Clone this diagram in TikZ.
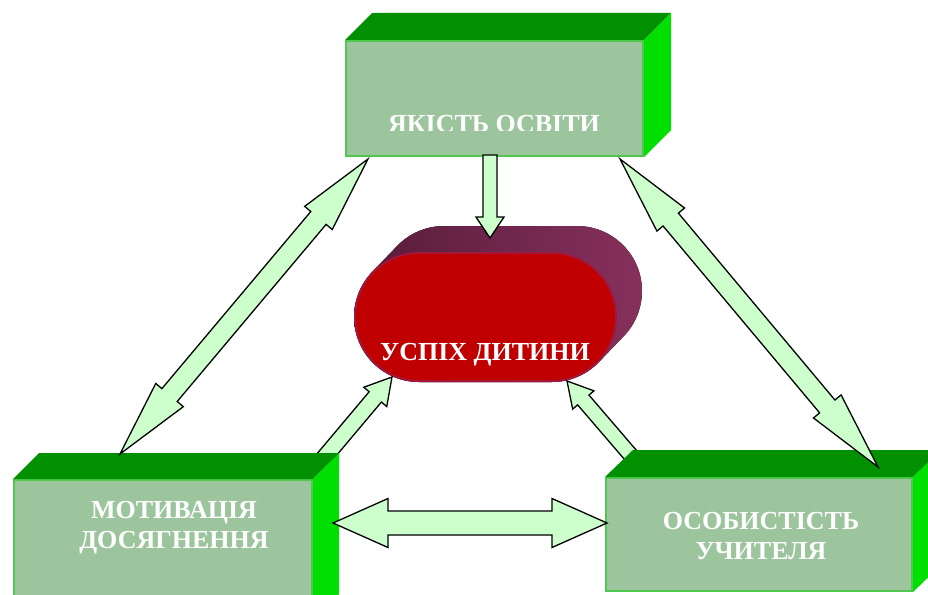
\documentclass[tikz,border=0pt]{standalone}
\usepackage{fontspec}
\setmainfont{Liberation Serif}
\usetikzlibrary{calc,shapes.misc}
\definecolor{frontg}{HTML}{9DC59D}
\definecolor{edgeg}{HTML}{50C850}
\definecolor{topg}{HTML}{009000}
\definecolor{sideg}{HTML}{00E000}
\definecolor{arrg}{HTML}{CCFFCC}
\definecolor{pillred}{HTML}{C00000}
\definecolor{pilledge}{HTML}{A3163A}
\definecolor{pilldark}{HTML}{561C3A}
\definecolor{pilllight}{HTML}{86305C}
\tikzset{
 boxfront/.style={rectangle, fill=frontg, draw=edgeg, line width=2pt, inner sep=0pt},
 topface/.style={fill=topg},
 sideface/.style={fill=sideg},
 arr/.style={fill=arrg, draw=black, line width=1.3pt, line join=miter},
 lbl/.style={text=white, font=\bfseries\fontsize{26}{30}\selectfont, align=center, inner sep=0pt},
}
% double arrow: end a, end b, head length, head half width, shaft half width
\newcommand{\dblarr}[5]{%
 \coordinate (hA) at ($(#1)!#3!(#2)$);
 \coordinate (hB) at ($(#2)!#3!(#1)$);
 \draw[arr] (#1) -- ($(hA)!#4!90:(#2)$) -- ($(hA)!#5!90:(#2)$) -- ($(hB)!#5!-90:(#1)$) -- ($(hB)!#4!-90:(#1)$) -- (#2)
  -- ($(hB)!#4!90:(#1)$) -- ($(hB)!#5!90:(#1)$) -- ($(hA)!#5!-90:(#2)$) -- ($(hA)!#4!-90:(#2)$) -- cycle;}
% single arrow: tail, tip, head length, head half width, shaft half width
\newcommand{\sglarr}[5]{%
 \coordinate (hC) at ($(#2)!#3!(#1)$);
 \draw[arr] ($(#1)!#5!90:(#2)$) -- ($(hC)!#5!-90:(#1)$) -- ($(hC)!#4!-90:(#1)$) -- (#2)
  -- ($(hC)!#4!90:(#1)$) -- ($(hC)!#5!90:(#1)$) -- ($(#1)!#5!-90:(#2)$) -- cycle;}
\newcommand{\boxfaces}[3]{%
 \fill[topface] (#1.north west) -- ++(#2,-#3) -- ($(#1.north east)+(#2,-#3)$) -- (#1.north east) -- cycle;
 \fill[sideface] (#1.north east) -- ++(#2,-#3) -- ($(#1.south east)+(#2,-#3)$) -- (#1.south east) -- cycle;}
\begin{document}
\begin{tikzpicture}[x=1pt,y=-1pt]
\useasboundingbox (0,0) rectangle (928,594);
\clip (0,0) rectangle (928,594);
% pill extrusion (hull of front and back stadium)
\fill[left color=pilldark, right color=pilllight]
 ($(552,317)+(43.9:65)$) arc[start angle=43.9, end angle=90, radius=65]
 -- (419,382) arc[start angle=90, end angle=223.9, radius=65]
 -- ++(25,-26) arc[start angle=223.9, end angle=270, radius=65]
 -- (577,226) arc[start angle=270, end angle=403.9, radius=65] -- cycle;
\node[rounded rectangle, fill=pillred, draw=pilledge, line width=2pt, minimum width=261pt, minimum height=128pt, inner sep=0pt] (P) at (485.5,317) {};
\node[lbl, anchor=base] (Ptext) at (485,360) {УСПІХ ДИТИНИ};
% arrows from bottom boxes to the pill (behind boxes)
\coordinate (sl0) at (318,465); \coordinate (sl1) at (392,377);
\sglarr{sl0}{sl1}{26pt}{15pt}{8pt}
\coordinate (sr0) at (640,466); \coordinate (sr1) at (567,381);
\sglarr{sr0}{sr1}{25pt}{14pt}{7.5pt}
% boxes
\node[boxfront, minimum width=297pt, minimum height=115pt] (T) at (494.5,98.5) {};
\boxfaces{T}{27}{27}
\node[boxfront, minimum width=298pt, minimum height=139pt] (L) at (163,549.5) {};
\boxfaces{L}{26}{26}
\node[boxfront, minimum width=306pt, minimum height=113pt] (R) at (759,534.5) {};
\boxfaces{R}{28}{27}
% texts
\begin{scope}
 \clip (340,40) rectangle (650,130.5);
 \node[lbl, anchor=base] (Ttext) at (494,132) {ЯКІСТЬ ОСВІТИ};
\end{scope}
\node[lbl, anchor=base] (Ltext) at (174,548) {МОТИВАЦІЯ\\ДОСЯГНЕННЯ};
\node[lbl, anchor=base] (Rtext) at (761,559) {ОСОБИСТІСТЬ\\УЧИТЕЛЯ};
% arrows on top
\coordinate (dl0) at (368,159); \coordinate (dl1) at (120,454);
\dblarr{dl0}{dl1}{77pt}{18pt}{10pt}
\coordinate (dr0) at (620,159); \coordinate (dr1) at (878,467);
\dblarr{dr0}{dr1}{79pt}{18pt}{10pt}
\coordinate (hz0) at (333,523); \coordinate (hz1) at (607,523);
\dblarr{hz0}{hz1}{55pt}{24.5pt}{12pt}
\coordinate (dn0) at (490,155); \coordinate (dn1) at (490,238);
\sglarr{dn0}{dn1}{21pt}{14pt}{7pt}
\end{tikzpicture}
\end{document}
